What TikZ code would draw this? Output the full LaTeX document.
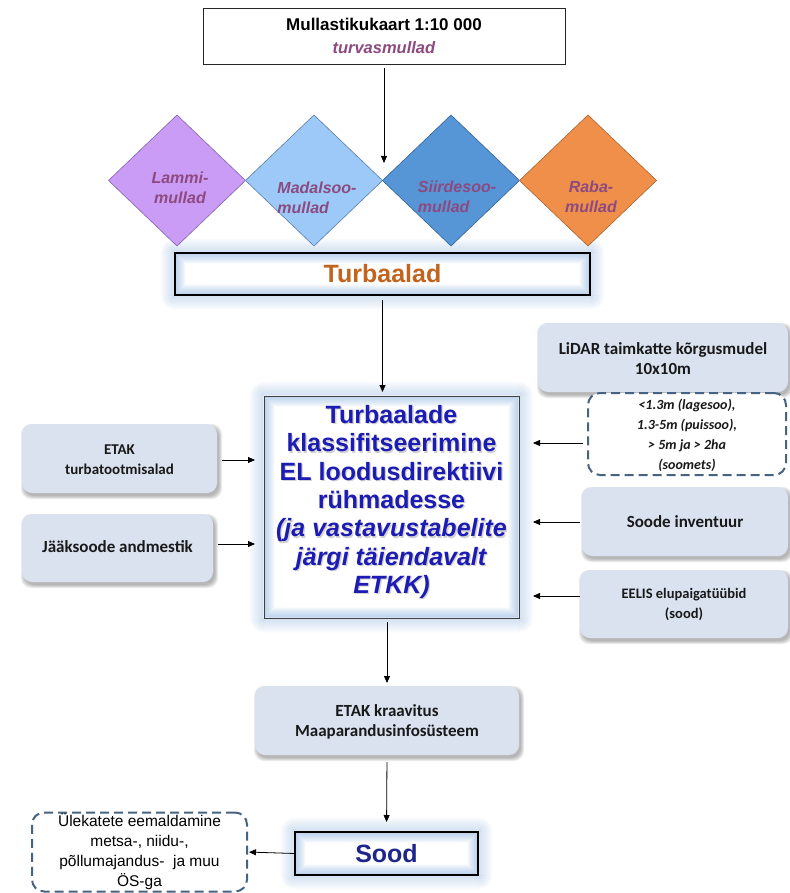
\documentclass[tikz,border=0pt]{standalone}
\usepackage{fontspec}
\setmainfont{Liberation Sans}
\newfontfamily\calib{Carlito}
\usetikzlibrary{arrows.meta,shapes.geometric,backgrounds,calc}

\definecolor{lammic}{RGB}{203,156,245}
\definecolor{lammib}{RGB}{130,100,170}
\definecolor{madalc}{RGB}{156,201,247}
\definecolor{madalb}{RGB}{90,125,170}
\definecolor{siirdc}{RGB}{86,149,214}
\definecolor{siirdb}{RGB}{55,100,150}
\definecolor{rabac}{RGB}{239,143,74}
\definecolor{rabab}{RGB}{170,100,50}
\definecolor{soiltxt}{RGB}{140,74,128}
\definecolor{turbtxt}{RGB}{192,100,30}
\definecolor{mainblue}{RGB}{28,28,180}
\definecolor{soodblue}{RGB}{30,38,140}
\definecolor{halocol}{RGB}{165,195,230}
\definecolor{lboxfill}{RGB}{218,226,240}
\definecolor{dashcol}{RGB}{70,100,130}

% outer glow and soft inner band of the highlighted boxes
\newcommand\halo[1]{%
  \begin{scope}[on background layer]
    \foreach \g in {1,...,14}{%
      \pgfmathsetmacro\op{0.45*(1-\g/15)}%
      \draw[halocol, line width=1.3pt, opacity=\op, rounded corners=\g pt]
        ([shift={(-\g,-\g)}]#1.north west) rectangle ([shift={(\g,\g)}]#1.south east);
    }%
    \fill[white] (#1.north west) rectangle (#1.south east);
    \foreach \g in {1,...,10}{%
      \pgfmathsetmacro\op{0.5*(1-\g/11)}%
      \draw[halocol, line width=1.3pt, opacity=\op]
        ([shift={(\g,\g)}]#1.north west) rectangle ([shift={(-\g,-\g)}]#1.south east);
    }%
  \end{scope}}

% soft drop shadow under the pale rounded boxes
\newcommand\softshadow[1]{%
  \begin{scope}[on background layer]
    \foreach \e in {0,1,2,3}{%
      \fill[black, opacity=0.08, rounded corners=10pt]
        ([shift={(2-\e,3-\e)}]#1.north west) rectangle ([shift={(2+\e,3+\e)}]#1.south east);
    }%
  \end{scope}}

\newcommand\maintext{%
  Turbaalade\\klassifitseerimine\\EL loodusdirektiivi\\rühmadesse\\
  \textit{(ja vastavustabelite}\\\textit{järgi täiendavalt}\\\textit{ETKK)}}

\begin{document}
\begin{tikzpicture}[x=1pt,y=-1pt,
  sz/.style 2 args={minimum width=#1pt, minimum height=#2pt},
  arr/.style={draw=black, line width=0.8pt, -{Triangle[length=7pt,width=6pt]}},
  topbox/.style={draw=black!85, line width=0.8pt, fill=white, inner sep=0pt, outer sep=0pt, align=center,
    font=\fontsize{17}{23}\selectfont},
  soil/.style={diamond, inner sep=0pt, outer sep=0pt, line width=0.6pt, minimum width=137pt, minimum height=131pt},
  soiltext/.style={text=soiltxt, font=\fontsize{16}{20}\selectfont\bfseries\itshape},
  glowbox/.style={draw=black, line width=2pt, inner sep=0pt, outer sep=0pt},
  lbox/.style={fill=lboxfill, rounded corners=10pt, inner sep=0pt, outer sep=0pt},
  ltext/.style={align=center, text=black!90, font=\calib\bfseries\fontsize{#1}{20}\selectfont},
  ltext/.default=17,
  dbox/.style={draw=dashcol, line width=2pt, dash pattern=on 9pt off 5pt, rounded corners=12pt,
    fill=white, inner sep=0pt, outer sep=0pt},
]
\useasboundingbox (0,0) rectangle (789,893);
\begin{scope}[on background layer]
  \fill[white] (0,0) rectangle (789,893);
\end{scope}

% soil map source
\node[topbox, sz={362}{56}] (top) at (384,36)
  {\textbf{Mullastikukaart 1:10 000}\\
   \textcolor{soiltxt}{\fontsize{16.5}{23}\selectfont\textbf{\textit{turvasmullad}}}};
\coordinate (meet) at (384,163);

% peat soil types
\node[soil, fill=lammic, draw=lammib] (lammi) at (177,180.5) {};
\node[soil, fill=madalc, draw=madalb] (madal) at (314,180.5) {};
\node[soil, fill=siirdc, draw=siirdb] (siird) at (451,180.5) {};
\node[soil, fill=rabac, draw=rabab] (raba) at (588,180.5) {};
\node[soiltext, align=center] (lammi-t) at (180,188) {Lammi-\\mullad};
\node[soiltext, align=left] (madal-t) at (317,198) {Madalsoo-\\mullad};
\node[soiltext, align=left] (siird-t) at (457,197) {Siirdesoo-\\mullad};
\node[soiltext, align=center] (raba-t) at (591,197) {Raba-\\mullad};

% peatlands
\node[glowbox, sz={415}{42}, text=turbtxt, font=\fontsize{25}{30}\selectfont\bfseries] (turb) at (382.5,274) {Turbaalad};
\halo{turb}

% classification
\node[draw=black!75, line width=1pt, inner sep=0pt, outer sep=0pt, sz={255}{222}] (main) at (391.5,507) {};
\halo{main}
\node[align=center, text=black!35, opacity=0.5, font=\fontsize{25}{28.3}\selectfont\bfseries] (main-s) at (392.8,503.3) {\maintext};
\node[align=center, text=mainblue, font=\fontsize{25}{28.3}\selectfont\bfseries] (main-t) at (391.5,502) {\maintext};

% inputs on the left
\node[lbox, sz={195}{69}] (etak) at (119.5,458.5) {};
\node[ltext=15] (etak-t) at (119.5,460) {ETAK\\turbatootmisalad};
\node[lbox, sz={191}{68}] (jaak) at (117.5,548) {};
\node[ltext] (jaak-t) at (117.5,547) {Jääksoode andmestik};
\softshadow{etak}
\softshadow{jaak}

% inputs on the right
\node[lbox, sz={250}{69}] (lidar) at (663,357.5) {};
\node[ltext] (lidar-t) at (663,359) {LiDAR taimkatte kõrgusmudel\\10x10m};
\node[dbox, sz={198}{82}] (klass) at (687,434) {};
\node[align=center, text=black!90, font=\calib\bfseries\itshape\fontsize{14}{20}\selectfont] (klass-t) at (687,435)
  {<1.3m (lagesoo),\\1.3-5m (puissoo),\\> 5m ja > 2ha\\(soomets)};
\node[lbox, sz={206}{69}] (inv) at (685,521.5) {};
\node[ltext] (inv-t) at (685,522) {Soode inventuur};
\node[lbox, sz={208}{68}] (eelis) at (684,604) {};
\node[ltext=14.5] (eelis-t) at (684,605) {EELIS elupaigatüübid\\(sood)};
\softshadow{lidar}
\softshadow{inv}
\softshadow{eelis}

% drainage
\node[lbox, sz={264}{69}] (kraav) at (387,720.5) {};
\node[ltext] (kraav-t) at (387,722) {ETAK kraavitus\\Maaparandusinfosüsteem};
\softshadow{kraav}

% mires
\node[glowbox, sz={183}{43}, text=soodblue, font=\fontsize{25}{30}\selectfont\bfseries] (sood) at (386.5,853.5) {Sood};
\halo{sood}
\node[dbox, sz={215}{79}, align=center, font=\fontsize{15.5}{20}\selectfont] (ulek) at (139.5,852)
  {Ülekatete eemaldamine\\metsa-, niidu-,\\põllumajandus-\ \ ja muu\\ÖS-ga};

% connectors
\coordinate (klass-a) at ([yshift=-9pt]klass.west);
\coordinate (eelis-a) at ([yshift=8pt]eelis.west);
\coordinate (jaak-a) at ([yshift=4pt]jaak.east);
\draw[arr, shorten <=4pt] (top.south) -- (meet);
\draw[arr, shorten <=5pt, shorten >=4pt] (turb.south) -- (turb.south |- main.north);
\draw[arr, shorten <=5pt, shorten >=9pt] (etak-t.east -| etak.east) -- (etak-t.east -| main.west);
\draw[arr, shorten <=5pt, shorten >=9pt] (jaak-a) -- (jaak-a -| main.west);
\draw[arr, shorten <=5pt, shorten >=14pt] (klass-a) -- (klass-a -| main.east);
\draw[arr, shorten <=2pt, shorten >=14pt] (inv-t.west -| inv.west) -- (inv-t.west -| main.east);
\draw[arr, shorten <=0pt, shorten >=14pt] (eelis-a) -- (eelis-a -| main.east);
\draw[arr, shorten <=4pt, shorten >=3pt] (kraav.north |- main.south) -- (kraav.north);
\draw[arr, shorten <=7pt, shorten >=10pt] (kraav.south) -- (sood.north);
\draw[arr, shorten >=2pt] (sood.west) -- (ulek.east);
\end{tikzpicture}
\end{document}
